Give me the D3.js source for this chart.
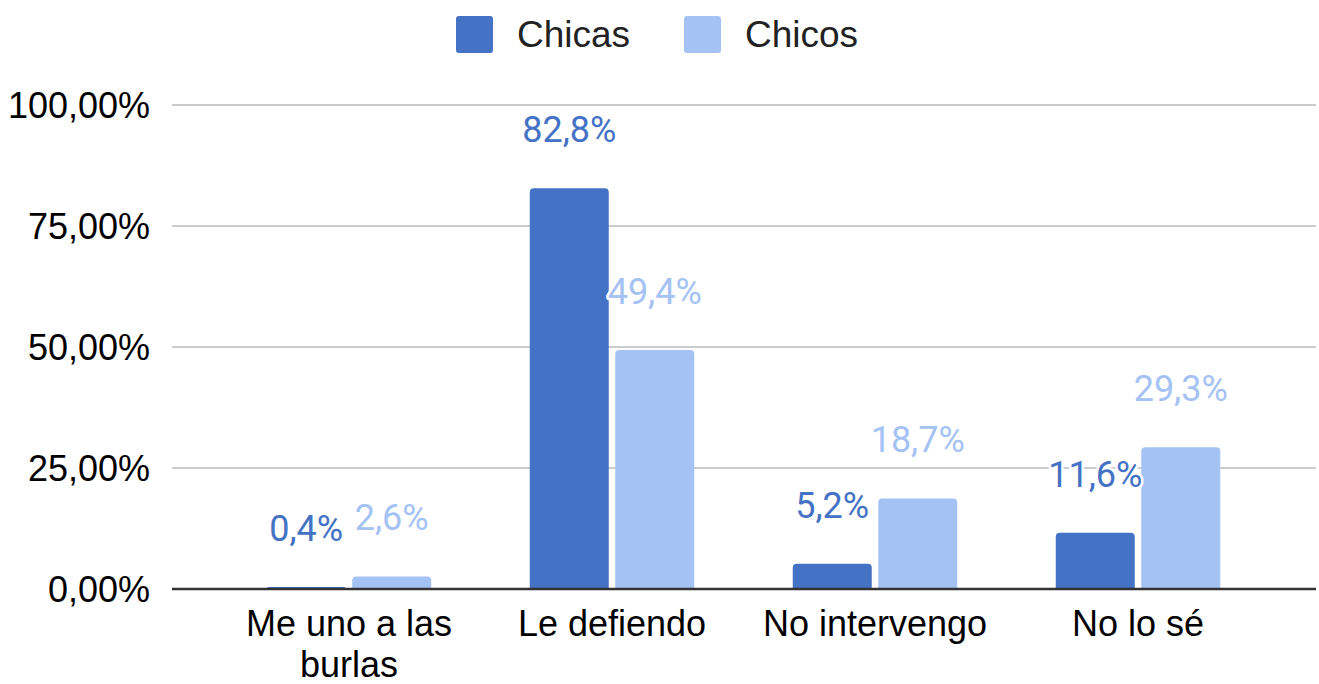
<!DOCTYPE html>
<html>
<head>
<meta charset="utf-8">
<script src="https://cdn.jsdelivr.net/npm/d3@7"></script>
<style>
  html, body { margin: 0; padding: 0; background: #fff; }
  svg { display: block; }
</style>
</head>
<body>
<div id="chart"></div>
<script>
// datos
const categories = [['Me uno a las', 'burlas'], ['Le defiendo'], ['No intervengo'], ['No lo sé']];
const seriesNames = ['Chicas', 'Chicos'];
const chicas = [0.4, 82.8, 5.2, 11.6];
const chicos = [2.6, 49.4, 18.7, 29.3];
const yTicks = [0, 25, 50, 75, 100];
const labelsChicas = ['0,4%', '82,8%', '5,2%', '11,6%'];
const labelsChicos = ['2,6%', '49,4%', '18,7%', '29,3%'];

const colors = ['#4472c4', '#a4c2f4'];
const width = 1319, height = 684;

const svg = d3.select('#chart').append('svg')
    .attr('width', width)
    .attr('height', height);

const plot = { left: 172, right: 1316, top: 105, bottom: 589 };

const catKeys = categories.map((c, i) => i);
const x0 = d3.scaleBand()
    .domain(catKeys)
    .range([217.5, 1269.5]);

const x1 = d3.scaleBand()
    .domain(seriesNames)
    .range([-82.25, 82.25])
    .paddingInner(0.076);

const y = d3.scaleLinear()
    .domain([0, 100])
    .range([plot.bottom, plot.top]);

// líneas de cuadrícula
svg.append('g')
    .selectAll('line')
    .data(yTicks.filter(t => t > 0))
    .join('line')
    .attr('x1', plot.left)
    .attr('x2', plot.right)
    .attr('y1', d => y(d))
    .attr('y2', d => y(d))
    .attr('stroke', '#cccccc')
    .attr('stroke-width', 2);

// eje Y
const yAxis = d3.axisLeft(y)
    .tickValues(yTicks)
    .tickSize(0)
    .tickPadding(22)
    .tickFormat(d => d3.format('.2f')(d).replace('.', ',') + '%');

svg.append('g')
    .attr('transform', `translate(${plot.left},0)`)
    .call(yAxis)
    .call(g => g.select('.domain').remove())
    .selectAll('text')
    .attr('font-family', 'Liberation Sans, Arial, sans-serif')
    .attr('font-size', 36)
    .attr('fill', '#000')
    .attr('dy', '0.35em');

// barras
function barPath(x, yTop, w, h, r) {
    r = Math.min(r, h, w / 2);
    return `M${x},${yTop + h}V${yTop + r}Q${x},${yTop} ${x + r},${yTop}` +
        `H${x + w - r}Q${x + w},${yTop} ${x + w},${yTop + r}V${yTop + h}Z`;
}

const seriesData = [chicas, chicos];
const seriesLabels = [labelsChicas, labelsChicos];

seriesNames.forEach((name, si) => {
    const data = seriesData[si].map((v, i) => ({ i, v, label: seriesLabels[si][i] }));
    const g = svg.append('g').attr('class', 'serie-' + si);

    g.selectAll('path')
        .data(data)
        .join('path')
        .attr('d', d => {
            const bx = x0(d.i) + x0.bandwidth() / 2 + x1(name);
            const top = y(d.v);
            return barPath(bx, top, x1.bandwidth(), plot.bottom - top, 4);
        })
        .attr('fill', colors[si]);
});

// etiquetas de datos (encima de las barras)
seriesNames.forEach((name, si) => {
    const data = seriesData[si].map((v, i) => ({ i, v, label: seriesLabels[si][i] }));
    svg.append('g')
        .selectAll('text')
        .data(data)
        .join('text')
        .attr('x', d => x0(d.i) + x0.bandwidth() / 2 + x1(name) + x1.bandwidth() / 2)
        .attr('y', d => y(d.v) - 46)
        .attr('text-anchor', 'middle')
        .attr('font-family', 'Roboto, sans-serif')
        .attr('font-size', 36)
        .attr('fill', colors[si])
        .attr('stroke', '#fff')
        .attr('stroke-width', 5)
        .attr('stroke-linejoin', 'round')
        .attr('paint-order', 'stroke')
        .text(d => d.label);
});

// línea base
svg.append('line')
    .attr('x1', plot.left)
    .attr('x2', plot.right)
    .attr('y1', plot.bottom)
    .attr('y2', plot.bottom)
    .attr('stroke', '#333333')
    .attr('stroke-width', 2.5);

// eje X (etiquetas de categoría)
const xLabels = svg.append('g')
    .selectAll('text')
    .data(categories)
    .join('text')
    .attr('x', (d, i) => x0(i) + x0.bandwidth() / 2)
    .attr('y', 636)
    .attr('text-anchor', 'middle')
    .attr('font-family', 'Liberation Sans, Arial, sans-serif')
    .attr('font-size', 36)
    .attr('fill', '#000');

xLabels.selectAll('tspan')
    .data(d => d)
    .join('tspan')
    .attr('x', function () { return d3.select(this.parentNode).attr('x'); })
    .attr('dy', (d, i) => i === 0 ? 0 : 40.5)
    .text(d => d);

// leyenda
const legendItems = [
    { name: seriesNames[0], color: colors[0], x: 456 },
    { name: seriesNames[1], color: colors[1], x: 684 }
];
const legend = svg.append('g').attr('class', 'legend');
legendItems.forEach(item => {
    legend.append('rect')
        .attr('x', item.x)
        .attr('y', 16)
        .attr('width', 37)
        .attr('height', 37)
        .attr('rx', 3)
        .attr('fill', item.color);
    legend.append('text')
        .attr('x', item.x + 61)
        .attr('y', 47)
        .attr('font-family', 'Liberation Sans, Arial, sans-serif')
        .attr('font-size', 37)
        .attr('fill', '#222')
        .text(item.name);
});
</script>
</body>
</html>
